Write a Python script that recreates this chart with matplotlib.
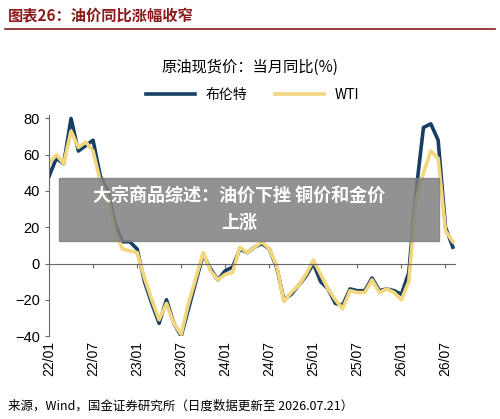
import matplotlib
matplotlib.use("Agg")
import matplotlib.pyplot as plt
from matplotlib.patches import Rectangle

plt.rcParams['font.family'] = ['Noto Sans CJK SC', 'DejaVu Sans']

brent = [48,58,55,80,62,65,68,48,40,22,12,12,8,-10,-22,-33,-20,-33,-40,-25,-10,5,-3,-9,-4,-2,8,6,9,11,8,-2,-20,-17,-12,-7,0,-10,-14,-22,-23,-14,-15,-15,-8,-15,-14,-15,-17,-5,40,75,77,68,20,9]
wti = [55,60,55,73,64,67,62,45,37,18,8,7,6,-8,-20,-31,-22,-33,-39,-22,-8,6,-4,-9,-6,-5,9,6,9,12,8,-1,-21,-16,-12,-6,2,-6,-14,-20,-25,-15,-16,-16,-9,-16,-14,-16,-20,-10,35,50,62,58,18,12]
tick_labels = ['22/01','22/07','23/01','23/07','24/01','24/07','25/01','25/07','26/01','26/07']
tick_pos = [i*6 for i in range(len(tick_labels))]
x = list(range(len(brent)))

fig = plt.figure(figsize=(5, 4.19), dpi=100)
ax = fig.add_axes([0.098, 0.198, 0.815, 0.528])
ax.plot(x, brent, color='#163f63', lw=2.6, label='布伦特')
ax.plot(x, wti, color='#f2d77e', lw=2.6, label='WTI')
ax.set_ylim(-40, 82)
ax.set_xlim(0, 55.5)
ax.set_yticks([-40,-20,0,20,40,60,80])
ax.axhline(0, color='#666666', lw=0.8)
ax.vlines(tick_pos, -2.5, 0, color='#666666', lw=0.8)
ax.set_xticks(tick_pos)
ax.set_xticklabels(tick_labels, rotation=90, fontsize=10, family=['Liberation Sans'])
for t in ax.get_yticklabels():
    t.set_family(['Liberation Sans'])
ax.tick_params(axis='x', length=0)
ax.tick_params(axis='y', labelsize=10.5, length=3, color='#666666')
for s in ['top','right','bottom']:
    ax.spines[s].set_visible(False)
ax.spines['left'].set_color('#666666')
ax.legend(loc='lower center', bbox_to_anchor=(0.5, 1.0), ncol=2, frameon=False, fontsize=10, handlelength=3.5)

fig.text(0.5, 0.84, '原油现货价：当月同比(%)', ha='center', va='center', fontsize=11)
fig.text(0.015, 0.963, '图表26：油价同比涨幅收窄', ha='left', va='center', fontsize=11, color='#8b1a1a', fontweight='bold', style='italic')
fig.add_artist(plt.Line2D([0.01, 0.99], [0.93, 0.93], color='#8b1a1a', lw=1.2))
fig.text(0.015, 0.03, '来源，Wind，国金证券研究所（日度数据更新至 2026.07.21）', ha='left', va='center', fontsize=9)

fig.add_artist(Rectangle((59/500, 1-241/419), 380/500, 63/419, transform=fig.transFigure, color='#7f7f7f', alpha=0.85))
fig.text(0.478, 1-196/419, '大宗商品综述：油价下挫 铜价和金价', ha='center', va='center', fontsize=13, color='white', fontweight='bold')
fig.text(0.478, 1-222/419, '上涨', ha='center', va='center', fontsize=13, color='white', fontweight='bold')

fig.savefig('out.png', dpi=100)
